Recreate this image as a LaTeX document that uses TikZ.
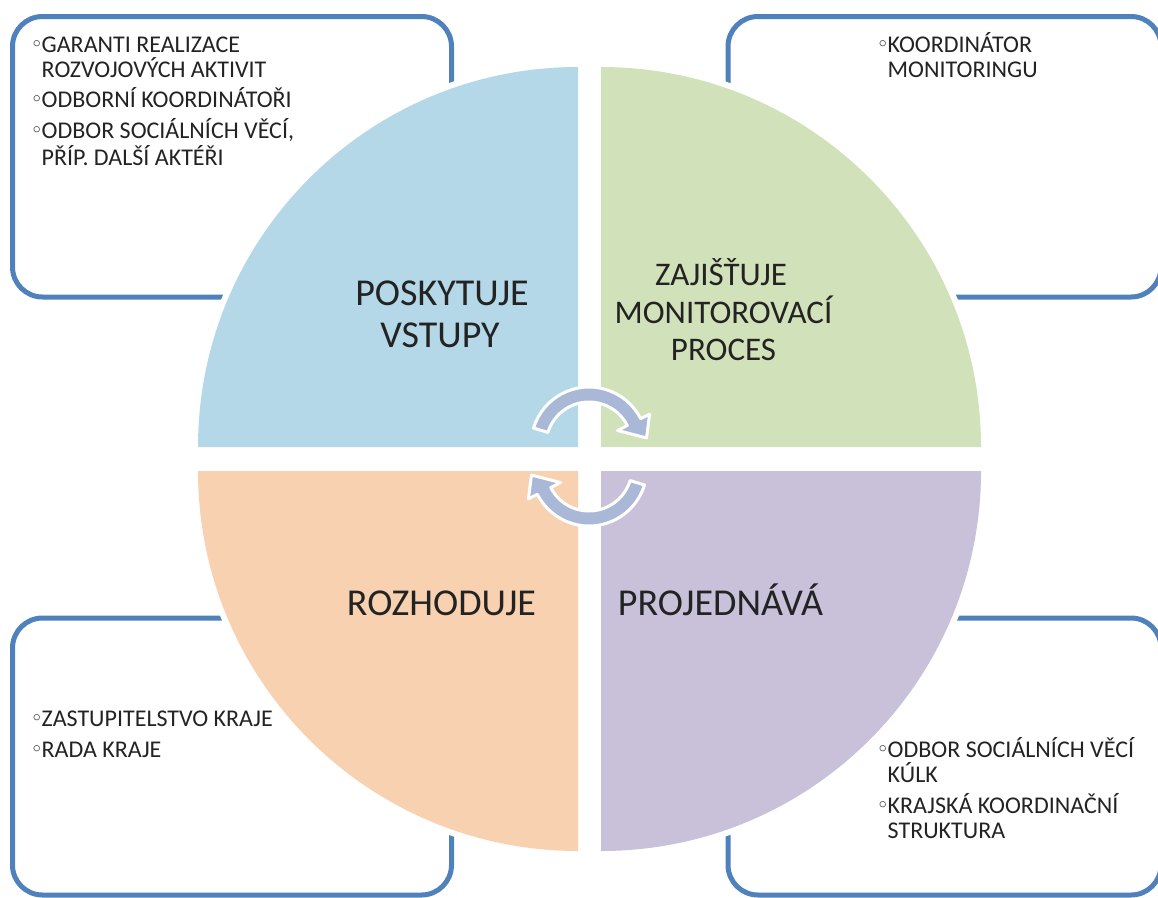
\documentclass[tikz,border=0pt]{standalone}
\usepackage{fontspec}
\setmainfont{Carlito}
\newfontfamily\dejavu{DejaVu Sans}
\definecolor{qblue}{RGB}{180,216,231}
\definecolor{qgreen}{RGB}{209,225,185}
\definecolor{qorange}{RGB}{248,209,177}
\definecolor{qpurple}{RGB}{201,192,218}
\definecolor{arrowc}{RGB}{168,184,214}
\definecolor{boxline}{RGB}{79,129,189}
\definecolor{txt}{RGB}{35,35,35}
\newcommand{\bul}{\makebox[9.5pt][l]{\hspace*{-1.5pt}\dejavu\fontsize{21}{21}\selectfont\raisebox{0.3pt}{◦}}}
\tikzset{
  infobox/.style={draw=boxline, line width=5pt, fill=white, rounded corners=30pt},
  smalltxt/.style={font=\fontsize{24}{24}\selectfont, text=txt, inner sep=0pt, anchor=base west},
  bigtxt/.style={font=\fontsize{38}{38}\selectfont, text=txt, inner sep=0pt, anchor=base},
  bigtxtr/.style={font=\fontsize{33}{33}\selectfont, text=txt, inner sep=0pt, anchor=base},
  cyclearrow/.style={fill=arrowc, draw=white, line width=3pt, line join=round}
}
\begin{document}
\begin{tikzpicture}[x=1pt,y=1pt]
\useasboundingbox (0,0) rectangle (1158,-897);
% info boxes
\draw[infobox] (12.5,-16.5) rectangle (451.5,-297);
\draw[infobox] (728,-16.5) rectangle (1161,-297);
\draw[infobox] (12.5,-618) rectangle (451.5,-895);
\draw[infobox] (728,-618) rectangle (1161,-895);
% quadrants with white halo
\fill[white] (578,-447) -- ++(-386,0) arc[start angle=180,end angle=90,radius=386] -- cycle;
\fill[qblue] (578,-447) -- ++(-380,0) arc[start angle=180,end angle=90,radius=380] -- cycle;
\fill[white] (601,-447) -- ++(0,386) arc[start angle=90,end angle=0,radius=386] -- cycle;
\fill[qgreen] (601,-447) -- ++(0,380) arc[start angle=90,end angle=0,radius=380] -- cycle;
\fill[white] (578,-471) -- ++(-386,0) arc[start angle=180,end angle=270,radius=386] -- cycle;
\fill[qorange] (578,-471) -- ++(-380,0) arc[start angle=180,end angle=270,radius=380] -- cycle;
\fill[white] (601,-471) -- ++(386,0) arc[start angle=0,end angle=-90,radius=386] -- cycle;
\fill[qpurple] (601,-471) -- ++(380,0) arc[start angle=0,end angle=-90,radius=380] -- cycle;
% circular arrows
\begin{scope}[shift={(589,-445)}]
\filldraw[cyclearrow] (163:58) arc[start angle=163,end angle=27,radius=58] -- (27:68) -- (7:58) -- (27:32) -- (27:43) arc[start angle=27,end angle=163,radius=43] -- cycle;
\end{scope}
\begin{scope}[shift={(589,-468)}]
\filldraw[cyclearrow] (-17:58) arc[start angle=-17,end angle=-153,radius=58] -- (-153:68) -- (-173:58) -- (-153:32) -- (-153:43) arc[start angle=-153,end angle=-17,radius=43] -- cycle;
\end{scope}
% quadrant labels
\node[bigtxt] (q1a) at (442,-305) {POSKYTUJE};
\node[bigtxt] (q1b) at (440,-347) {VSTUPY};
\node[bigtxtr] (q2a) at (721,-285) {ZAJIŠŤUJE};
\node[bigtxtr] (q2b) at (723.5,-323) {MONITOROVACÍ};
\node[bigtxtr] (q2c) at (723.5,-360) {PROCES};
\node[bigtxt] (q3a) at (441.5,-615) {ROZHODUJE};
\node[bigtxt] (q4a) at (720.5,-615) {PROJEDNÁVÁ};
% box texts
\node[smalltxt] (tl1) at (32,-52) {\bul GARANTI REALIZACE};
\node[smalltxt] (tl2) at (41.5,-77) {ROZVOJOVÝCH AKTIVIT};
\node[smalltxt] (tl3) at (32,-107) {\bul ODBORNÍ KOORDINÁTOŘI};
\node[smalltxt] (tl4) at (32,-138) {\bul ODBOR SOCIÁLNÍCH VĚCÍ,};
\node[smalltxt] (tl5) at (41.5,-165) {PŘÍP. DALŠÍ AKTÉŘI};
\node[smalltxt] (tr1) at (878,-52) {\bul KOORDINÁTOR};
\node[smalltxt] (tr2) at (887.5,-77) {MONITORINGU};
\node[smalltxt] (bl1) at (32,-726) {\bul ZASTUPITELSTVO KRAJE};
\node[smalltxt] (bl2) at (32,-757) {\bul RADA KRAJE};
\node[smalltxt] (br1) at (878,-757) {\bul ODBOR SOCIÁLNÍCH VĚCÍ};
\node[smalltxt] (br2) at (887.5,-782) {KÚLK};
\node[smalltxt] (br3) at (878,-813) {\bul KRAJSKÁ KOORDINAČNÍ};
\node[smalltxt] (br4) at (887.5,-838) {STRUKTURA};
\end{tikzpicture}
\end{document}
